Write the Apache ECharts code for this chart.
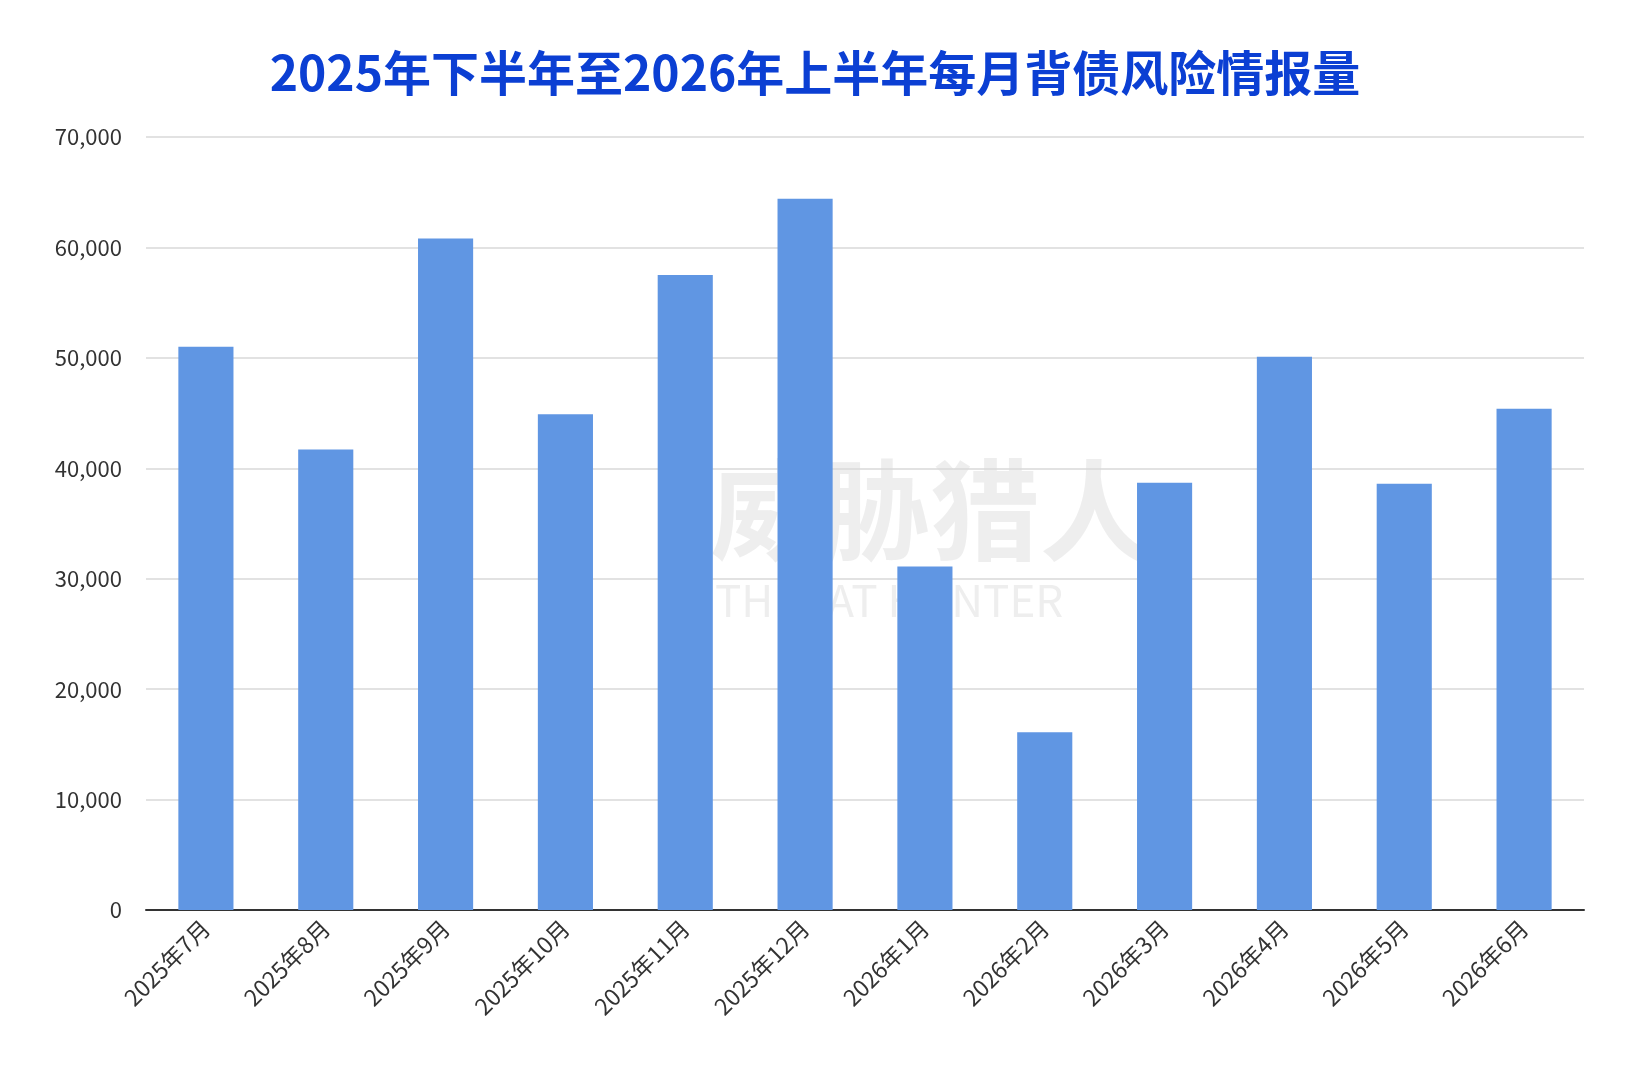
<!DOCTYPE html>
<html><head><meta charset="utf-8">
<script src="https://cdn.jsdelivr.net/npm/echarts@6/dist/echarts.min.js"></script>
<style>html,body{margin:0;padding:0;background:#fff}#c{width:1630px;height:1086px}</style>
</head><body><div id="c"></div>
<script>
const categories = ['2025年7月','2025年8月','2025年9月','2025年10月','2025年11月','2025年12月','2026年1月','2026年2月','2026年3月','2026年4月','2026年5月','2026年6月'];
const values = [51000,41700,60800,44900,57500,64400,31100,16100,38700,50100,38600,45400];
const titleText = '2025年下半年至2026年上半年每月背债风险情报量';
const font = '"Noto Sans CJK SC", "Noto Sans", sans-serif';
const chart = echarts.init(document.getElementById('c'));
chart.setOption({
  backgroundColor:'#fff',
  title:{text:titleText,left:'center',top:44,textStyle:{fontFamily:font,fontSize:48,fontWeight:'bold',color:'#0b3fd3'}},
  graphic:[
    {type:'text',left:710,top:455,z:0,style:{text:'威胁猎人',fontFamily:font,fontSize:110,fontWeight:'bold',fill:'rgba(200,200,200,0.3)'}},
    {type:'text',left:715,top:578,z:0,style:{text:'THREAT HUNTER',fontFamily:font,fontSize:44,fill:'rgba(200,200,200,0.3)'}}
  ],
  grid:{left:146,right:46,top:137,bottom:176},
  xAxis:{type:'category',data:categories,
    axisLine:{lineStyle:{color:'#333',width:2}},axisTick:{show:false},
    axisLabel:{rotate:45,fontFamily:font,fontSize:23,color:'#333',margin:14,interval:0}},
  yAxis:{type:'value',min:0,max:70000,interval:10000,
    axisLine:{show:false},axisTick:{show:false},
    splitLine:{lineStyle:{color:'#d9d9d9',width:1.5}},
    axisLabel:{fontFamily:font,fontSize:22,color:'#333',margin:24,formatter:v=>v.toLocaleString('en-US')}},
  series:[{type:'bar',data:values,barWidth:'46%',itemStyle:{color:'#6096e3'}}]
});
</script></body></html>
